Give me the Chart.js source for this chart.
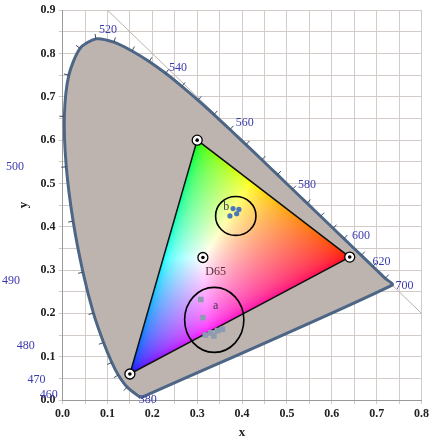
<!DOCTYPE html><html><head><script src="https://cdn.jsdelivr.net/npm/chart.js"></script>
<style>body{margin:0;background:#fff}#w{width:432px;height:440px}</style></head><body><div id="w"><canvas id="c"></canvas></div>
<script>
const wavelengths=[380,460,470,475,480,485,490,495,500,505,510,515,520,525,530,535,540,545,550,555,560,565,570,575,580,585,590,595,600,610,620,640,700];
const locusX=[0.1741,0.1440,0.1241,0.1096,0.0913,0.0687,0.0454,0.0235,0.0082,0.0039,0.0139,0.0389,0.0743,0.1142,0.1547,0.1929,0.2296,0.2658,0.3016,0.3373,0.3731,0.4087,0.4441,0.4788,0.5125,0.5448,0.5752,0.6029,0.6270,0.6658,0.6915,0.7190,0.7347];
const locusY=[0.0050,0.0297,0.0578,0.0868,0.1327,0.2007,0.2950,0.4127,0.5384,0.6548,0.7502,0.8120,0.8338,0.8262,0.8059,0.7816,0.7543,0.7243,0.6923,0.6589,0.6245,0.5896,0.5547,0.5202,0.4866,0.4544,0.4242,0.3965,0.3725,0.3340,0.3083,0.2809,0.2653];
const gamutX=[0.64,0.30,0.15], gamutY=[0.33,0.60,0.06];
const d65=[0.3127,0.329];
const bX=[0.380,0.393,0.373,0.388], bY=[0.442,0.440,0.425,0.430];
const aX=[0.308,0.313,0.318,0.330,0.345,0.356,0.337], aY=[0.232,0.190,0.150,0.155,0.160,0.163,0.148];
const circleA=[0.338,0.185,0.066,0.075], circleB=[0.386,0.425,0.045,0.045];
const labelText=['520','540','560','580','600','620','700','500','490','480','470','460','380'];
const labelX=[0.101,0.257,0.406,0.545,0.665,0.711,0.762,-0.106,-0.115,-0.082,-0.058,-0.031,0.190];
const labelY=[0.854,0.767,0.641,0.497,0.378,0.318,0.263,0.538,0.275,0.126,0.046,0.011,0.0];
const tickLabels=['0.0','0.1','0.2','0.3','0.4','0.5','0.6','0.7','0.8','0.9'];

const pts=(xs,ys)=>xs.map((x,i)=>({x,y:ys[i]}));
const locus=pts(locusX,locusY); locus.push({...locus[0]});
const gamut=pts(gamutX,gamutY); gamut.push({...gamut[0]});

function xyToRGB(x,y){const Y=1,X=x/y,Z=(1-x-y)/y;
 let r=3.2406*X-1.5372*Y-0.4986*Z,g=-0.9689*X+1.8758*Y+0.0415*Z,b=0.0557*X-0.2040*Y+1.0570*Z;
 r=Math.max(r,0);g=Math.max(g,0);b=Math.max(b,0);const m=Math.max(r,g,b)||1;r/=m;g/=m;b/=m;
 const gm=v=>v<=0.0031308?12.92*v:1.055*Math.pow(v,1/2.4)-0.055;return [gm(r)*255,gm(g)*255,gm(b)*255];}

const plug={id:'cie',
 afterDatasetDraw(chart,args){
  if(args.meta.label!=='gamut-fill')return;
  const xs=chart.scales.x,ys=chart.scales.y,ctx=chart.ctx;
  const px=gamut.map(p=>[xs.getPixelForValue(p.x),ys.getPixelForValue(p.y)]);
  const x0=Math.floor(Math.min(...px.map(p=>p[0]))),x1=Math.ceil(Math.max(...px.map(p=>p[0])));
  const y0=Math.floor(Math.min(...px.map(p=>p[1]))),y1=Math.ceil(Math.max(...px.map(p=>p[1])));
  const w=x1-x0,h=y1-y0,oc=document.createElement('canvas');oc.width=w;oc.height=h;
  const o=oc.getContext('2d'),im=o.createImageData(w,h);
  for(let j=0;j<h;j++)for(let i=0;i<w;i++){const dx=xs.getValueForPixel(x0+i),dy=ys.getValueForPixel(y0+j);
   const c=xyToRGB(dx,Math.max(dy,0.01)),k=(j*w+i)*4;im.data[k]=c[0];im.data[k+1]=c[1];im.data[k+2]=c[2];im.data[k+3]=255;}
  o.putImageData(im,0,0);
  ctx.save();ctx.beginPath();px.forEach((p,i)=>i?ctx.lineTo(p[0],p[1]):ctx.moveTo(p[0],p[1]));ctx.closePath();ctx.clip();
  ctx.drawImage(oc,x0,y0);ctx.restore();
 },
 afterDraw(chart){
  const xs=chart.scales.x,ys=chart.scales.y,ctx=chart.ctx;
  ctx.save();
  ctx.strokeStyle='#3d4a66';ctx.lineWidth=1;
  for(let i=1;i<locus.length-2;i++){const a=locus[i-1],b=locus[i+1];
   const p=[xs.getPixelForValue(locus[i].x),ys.getPixelForValue(locus[i].y)];
   let dx=xs.getPixelForValue(b.x)-xs.getPixelForValue(a.x),dy=ys.getPixelForValue(b.y)-ys.getPixelForValue(a.y);
   const L=Math.hypot(dx,dy);const nx=-dy/L,ny=dx/L;
   ctx.beginPath();ctx.moveTo(p[0],p[1]);ctx.lineTo(p[0]-nx*5,p[1]-ny*5);ctx.stroke();}
  ctx.strokeStyle='#000';ctx.lineWidth=1.6;
  [circleA,circleB].forEach(c=>{const cx=xs.getPixelForValue(c[0]),cy=ys.getPixelForValue(c[1]);
   const rx=xs.getPixelForValue(c[0]+c[2])-cx,ry=cy-ys.getPixelForValue(c[1]+c[3]);
   ctx.beginPath();ctx.ellipse(cx,cy,rx,ry,0,0,Math.PI*2);ctx.stroke();});
  [...gamut.slice(0,3),{x:d65[0],y:d65[1]}].forEach(p=>{const cx=xs.getPixelForValue(p.x),cy=ys.getPixelForValue(p.y);
   ctx.fillStyle='#fff';ctx.beginPath();ctx.arc(cx,cy,5,0,7);ctx.fill();ctx.lineWidth=1.3;ctx.stroke();
   ctx.fillStyle='#000';ctx.beginPath();ctx.arc(cx,cy,1.8,0,7);ctx.fill();});
  ctx.font='12px "Liberation Serif",serif';ctx.fillStyle='#5a2f3a';ctx.textBaseline='middle';
  ctx.fillText('D65',xs.getPixelForValue(0.318),ys.getPixelForValue(0.295));
  ctx.fillStyle='#3a3a4a';ctx.fillText('a',xs.getPixelForValue(0.335),ys.getPixelForValue(0.218));
  ctx.fillText('b',xs.getPixelForValue(0.358),ys.getPixelForValue(0.445));
  ctx.font='12px "Liberation Serif",serif';ctx.fillStyle='#3b3bb0';ctx.textAlign='center';
  labelText.forEach((t,i)=>ctx.fillText(t,xs.getPixelForValue(labelX[i]),ys.getPixelForValue(labelY[i])));
  ctx.restore();
 }};

new Chart(document.getElementById('c'),{type:'scatter',plugins:[plug],
 data:{datasets:[
  {label:'b',data:pts(bX,bY),order:1,pointRadius:2.6,backgroundColor:'#4a78b8',borderWidth:0},
  {label:'a',data:pts(aX,aY),order:2,pointStyle:'rect',pointRadius:4,backgroundColor:'#8e9bb0',borderWidth:0},
  {label:'gamut-line',data:gamut,order:3,showLine:true,fill:false,borderColor:'#111',borderWidth:1.5,pointRadius:0},
  {label:'gamut-fill',data:gamut,order:4,showLine:true,fill:false,borderWidth:0,pointRadius:0},
  {label:'locus',data:locus,order:5,showLine:true,fill:'shape',tension:0.25,backgroundColor:'#bdb4b0',borderColor:'#4d6686',borderWidth:3,pointRadius:0},
  {label:'diag',data:[{x:0.1,y:0.9},{x:0.8,y:0.2}],order:6,showLine:true,borderColor:'#bcb2ae',borderWidth:1,pointRadius:0}
 ]},
 options:{responsive:true,maintainAspectRatio:false,animation:false,
  layout:{padding:{top:6,right:8,left:12,bottom:0}},
  plugins:{legend:{display:false},tooltip:{enabled:false}},
  scales:{
   x:{type:'linear',min:0,max:0.8,
    ticks:{stepSize:0.05,autoSkip:false,color:'#222',font:{family:'"Liberation Serif",serif',weight:'bold',size:12},callback:v=>{const i=Math.round(v*20);return i%2?'':tickLabels[i/2];}},
    grid:{color:'#d3cbc8',drawTicks:true,tickLength:4},border:{color:'#999'},
    title:{display:true,text:'x',color:'#222',font:{family:'"Liberation Serif",serif',weight:'bold',size:13},padding:0}},
   y:{type:'linear',min:0,max:0.9,
    ticks:{stepSize:0.05,autoSkip:false,color:'#222',font:{family:'"Liberation Serif",serif',weight:'bold',size:12},callback:v=>{const i=Math.round(v*20);return i%2?'':tickLabels[i/2];}},
    grid:{color:'#d3cbc8',tickLength:4},border:{color:'#999'},
    title:{display:true,text:'y',color:'#222',font:{family:'"Liberation Serif",serif',weight:'bold',size:13},padding:{bottom:6}}}
  }}});
</script></body></html>
